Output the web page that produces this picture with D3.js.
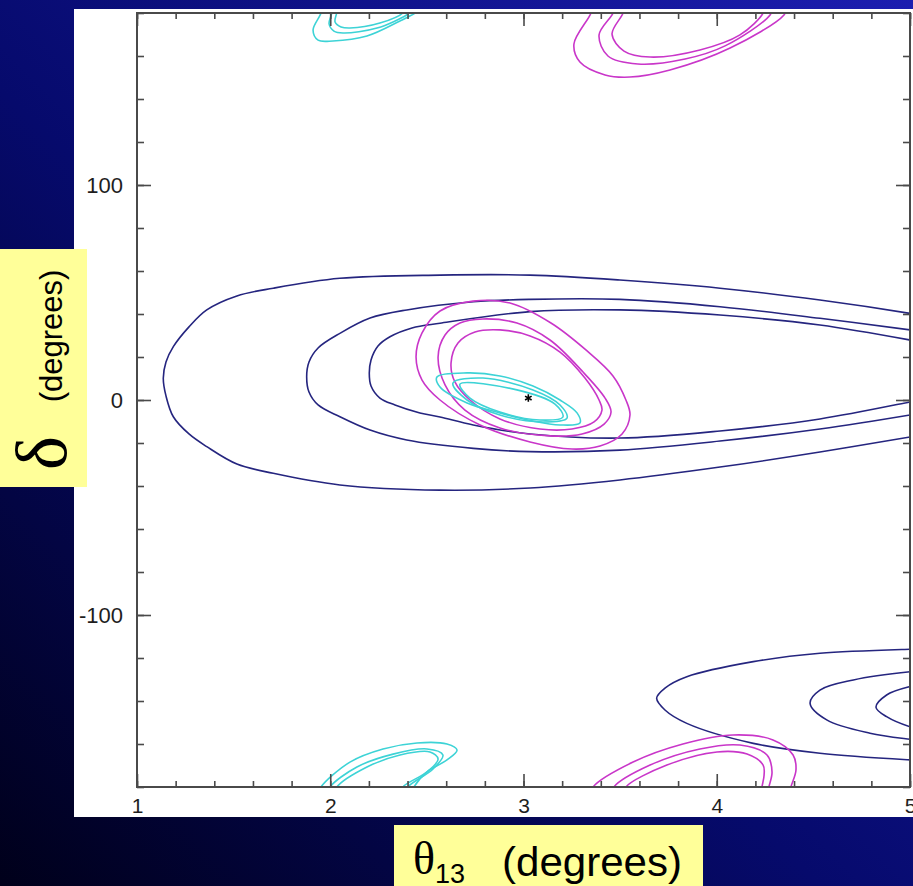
<!DOCTYPE html>
<html>
<head>
<meta charset="utf-8">
<script src="https://cdn.jsdelivr.net/npm/d3@7"></script>
<style>
  html, body { margin: 0; padding: 0; background: #000; overflow: hidden; }
  svg { display: block; }
</style>
</head>
<body>
<svg id="chart" width="913" height="886"></svg>
<script>
// Allowed regions in the (theta13, delta) plane, degrees.
// Each trace is a list of [theta13, delta] points along one contour.

// Blue: broad solutions around delta ~ +10 (open to the right edge)
const blueOuter = [[5.05,39.5],[5.0,40.3],[4.534,46.5],[4.017,52.0],[3.499,55.8],[3.034,58.1],[2.568,58.1],[2.050,56.6],[1.705,52.0],[1.517,48.4],[1.361,41.9],[1.269,34.0],[1.188,24.8],[1.150,17.7],[1.136,10.1],[1.150,1.9],[1.188,-7.8],[1.269,-15.8],[1.361,-21.7],[1.517,-29.8],[1.705,-34.1],[2.050,-39.5],[2.568,-41.9],[3.034,-40.9],[3.499,-37.2],[4.017,-31.2],[4.534,-24.2],[5.0,-17.2],[5.05,-16.5]];
const blueMiddle = [[5.05,32.0],[5.0,32.6],[4.534,38.0],[4.017,43.4],[3.499,46.8],[3.034,46.8],[2.740,45.7],[2.396,41.9],[2.206,38.1],[2.050,31.0],[1.937,24.2],[1.890,17.7],[1.878,10.8],[1.890,3.7],[1.937,-2.3],[2.050,-7.8],[2.206,-14.0],[2.396,-18.6],[2.740,-22.5],[3.034,-24.0],[3.499,-23.3],[4.017,-19.1],[4.534,-13.5],[5.0,-7.0],[5.05,-6.2]];
const blueInner = [[5.05,27.0],[5.0,27.9],[4.534,34.9],[4.017,39.5],[3.499,41.9],[3.034,41.1],[2.568,35.7],[2.423,33.5],[2.309,29.4],[2.247,25.1],[2.211,18.6],[2.202,12.4],[2.211,6.5],[2.257,0.9],[2.335,-2.3],[2.464,-6.0],[2.568,-7.9],[2.740,-11.6],[3.034,-15.8],[3.499,-17.7],[4.017,-14.4],[4.534,-8.8],[5.0,-0.9],[5.05,0.0]];

// Blue: degenerate solutions around delta ~ -140
const blueLowOuter = [[5.05,-115.8],[5.0,-115.9],[4.534,-117.8],[4.189,-121.7],[3.845,-128.7],[3.732,-134.0],[3.689,-138.7],[3.732,-144.2],[3.845,-150.4],[4.189,-159.7],[4.534,-164.3],[5.0,-167.4],[5.05,-167.6]];
const blueLowMiddle = [[5.05,-126.1],[5.0,-126.4],[4.707,-130.2],[4.534,-134.9],[4.483,-141.1],[4.569,-148.8],[4.793,-155.0],[5.0,-157.8],[5.05,-158.3]];
const blueLowInner = [[5.05,-132.5],[5.0,-133.3],[4.879,-137.2],[4.824,-142.9],[4.879,-147.3],[5.0,-152.0],[5.05,-153.0]];

// Magenta: closed contours around the best fit
const magentaOuter = [[2.444,20.0],[2.475,31.2],[2.568,41.4],[2.739,46.0],[2.930,45.1],[3.142,35.8],[3.329,22.8],[3.463,11.2],[3.530,0.0],[3.551,-7.0],[3.510,-15.8],[3.396,-21.4],[3.251,-22.8],[3.034,-19.5],[2.775,-11.6],[2.568,0.0],[2.475,9.3]];
const magentaMiddle = [[2.558,20.0],[2.594,30.2],[2.671,35.8],[2.790,37.7],[2.966,35.8],[3.137,27.9],[3.308,13.0],[3.422,0.9],[3.453,-5.6],[3.417,-11.2],[3.303,-15.8],[3.137,-16.7],[2.878,-13.0],[2.697,-4.7],[2.594,7.0]];
const magentaInner = [[2.625,17.2],[2.661,26.5],[2.749,31.6],[2.878,32.6],[3.034,29.8],[3.189,22.3],[3.318,10.2],[3.391,0.0],[3.406,-4.7],[3.365,-10.2],[3.251,-13.5],[3.085,-13.5],[2.878,-8.8],[2.723,0.0],[2.645,8.4]];

// Magenta: pieces near delta = +180 / -180
const magentaTopOuter = [[3.352,183],[3.349,180],[3.261,165.6],[3.292,157.2],[3.422,151.2],[3.551,150.2],[3.758,153.5],[4.069,163.7],[4.348,179.1],[4.365,183]];
const magentaTopMiddle = [[3.466,183],[3.463,180],[3.391,169.8],[3.437,160.0],[3.592,156.3],[3.836,158.6],[4.043,164.7],[4.276,179.1],[4.290,183]];
const magentaTopInner = [[3.518,183],[3.515,180],[3.458,170.2],[3.520,162.3],[3.655,159.5],[3.913,162.8],[4.120,169.8],[4.240,180],[4.246,183]];
const magentaLowOuter = [[3.350,-183],[3.360,-180],[3.567,-168.4],[3.825,-160.0],[4.084,-155.8],[4.291,-158.1],[4.395,-165.1],[4.410,-172.1],[4.384,-180],[4.378,-183]];
const magentaLowMiddle = [[3.460,-183],[3.468,-180],[3.655,-169.8],[3.913,-162.3],[4.120,-160.5],[4.260,-165.1],[4.286,-173.0],[4.270,-180],[4.266,-183]];
const magentaLowInner = [[3.522,-183],[3.530,-180],[3.742,-169.8],[4.001,-163.7],[4.157,-164.7],[4.240,-169.8],[4.245,-174.4],[4.234,-180],[4.230,-183]];

// Cyan: tight contours around the best fit
const cyanOuter = [[2.552,10.7],[2.708,12.6],[2.878,11.2],[3.049,6.5],[3.189,0.0],[3.277,-6.0],[3.292,-10.7],[3.189,-11.6],[3.049,-9.8],[2.878,-6.0],[2.708,-1.4],[2.568,6.0]];
const cyanMiddle = [[2.635,7.9],[2.790,10.2],[3.049,4.7],[3.189,-2.3],[3.225,-8.4],[3.101,-10.2],[2.878,-7.0],[2.708,0.0]];
const cyanInner = [[2.671,7.4],[2.966,4.7],[3.163,-1.9],[3.204,-7.9],[3.085,-9.3],[2.878,-5.6],[2.723,0.9]];

// Cyan: pieces near delta = +180 / -180
const cyanTopOuter = [[1.957,183.7],[1.952,180],[1.911,172.1],[1.937,167.4],[2.014,167.0],[2.190,169.3],[2.361,176.3],[2.439,180],[2.464,181.9]];
const cyanTopMiddle = [[2.010,183],[2.008,180],[1.994,174.9],[2.019,171.6],[2.066,170.7],[2.242,173.0],[2.397,179.2],[2.413,180.5]];
const cyanTopInner = [[2.035,183],[2.033,180],[2.025,175.8],[2.056,173.5],[2.102,173.0],[2.257,175.3],[2.376,180],[2.386,182]];
const cyanLowOuter = [[1.940,-183],[1.952,-180],[2.102,-168.4],[2.273,-162.3],[2.449,-159.5],[2.604,-160.0],[2.656,-162.8],[2.604,-167.4],[2.501,-173.0],[2.433,-180],[2.420,-183]];
const cyanLowMiddle = [[1.990,-183],[1.999,-180],[2.138,-170.7],[2.325,-164.7],[2.501,-162.3],[2.583,-165.1],[2.532,-171.6],[2.402,-180],[2.392,-183]];
const cyanLowInner = [[2.027,-183],[2.035,-180],[2.190,-170.7],[2.361,-165.1],[2.516,-163.7],[2.558,-167.0],[2.501,-173.0],[2.376,-180],[2.368,-183]];

// Best-fit point
const bestFit = [[3.025, 0.9]];

// Axis tick labels
const xTickLabels = [1, 2, 3, 4, 5];
const yTickLabels = [-100, 0, 100];

// ---------------------------------------------------------------------------
const W = 913, H = 886;
const plot = { left: 137, right: 910, top: 13, bottom: 787 };

const svg = d3.select("#chart");
const defs = svg.append("defs");

const bg = defs.append("linearGradient").attr("id", "slideBg")
  .attr("x1", "0").attr("y1", "1").attr("x2", "1").attr("y2", "0");
bg.append("stop").attr("offset", "0").attr("stop-color", "#00001a");
bg.append("stop").attr("offset", "0.45").attr("stop-color", "#060a6c");
bg.append("stop").attr("offset", "1").attr("stop-color", "#1c1eb0");

defs.append("clipPath").attr("id", "plotClip")
  .append("rect")
  .attr("x", plot.left).attr("y", plot.top)
  .attr("width", plot.right - plot.left).attr("height", plot.bottom - plot.top);

svg.append("rect").attr("width", W).attr("height", H).attr("fill", "url(#slideBg)");
svg.append("rect").attr("x", 74).attr("y", 9).attr("width", W - 74).attr("height", 808).attr("fill", "#ffffff");

const x = d3.scaleLinear().domain([1, 5]).range([plot.left, plot.right]);
const y = d3.scaleLinear().domain([-180, 180]).range([plot.bottom, plot.top]);

// Contours
const openLine = d3.line().x(d => x(d[0])).y(d => y(d[1])).curve(d3.curveCatmullRom.alpha(0.5));
const closedLine = d3.line().x(d => x(d[0])).y(d => y(d[1])).curve(d3.curveCatmullRomClosed.alpha(0.5));

const contours = svg.append("g").attr("clip-path", "url(#plotClip)")
  .attr("fill", "none").attr("stroke-width", 1.6).attr("stroke-linejoin", "round");

const colours = { blue: "#25257f", magenta: "#c936c9", cyan: "#3dd3d6" };

const traces = [
  { pts: blueOuter, c: colours.blue, closed: false },
  { pts: blueMiddle, c: colours.blue, closed: false },
  { pts: blueInner, c: colours.blue, closed: false },
  { pts: blueLowOuter, c: colours.blue, closed: false },
  { pts: blueLowMiddle, c: colours.blue, closed: false },
  { pts: blueLowInner, c: colours.blue, closed: false },
  { pts: magentaOuter, c: colours.magenta, closed: true },
  { pts: magentaMiddle, c: colours.magenta, closed: true },
  { pts: magentaInner, c: colours.magenta, closed: true },
  { pts: magentaTopOuter, c: colours.magenta, closed: false },
  { pts: magentaTopMiddle, c: colours.magenta, closed: false },
  { pts: magentaTopInner, c: colours.magenta, closed: false },
  { pts: magentaLowOuter, c: colours.magenta, closed: false },
  { pts: magentaLowMiddle, c: colours.magenta, closed: false },
  { pts: magentaLowInner, c: colours.magenta, closed: false },
  { pts: cyanOuter, c: colours.cyan, closed: true },
  { pts: cyanMiddle, c: colours.cyan, closed: true },
  { pts: cyanInner, c: colours.cyan, closed: true },
  { pts: cyanTopOuter, c: colours.cyan, closed: false },
  { pts: cyanTopMiddle, c: colours.cyan, closed: false },
  { pts: cyanTopInner, c: colours.cyan, closed: false },
  { pts: cyanLowOuter, c: colours.cyan, closed: false },
  { pts: cyanLowMiddle, c: colours.cyan, closed: false },
  { pts: cyanLowInner, c: colours.cyan, closed: false }
];

contours.selectAll("path").data(traces).join("path")
  .attr("stroke", d => d.c)
  .attr("d", d => (d.closed ? closedLine : openLine)(d.pts));

// Best-fit marker
svg.append("g").selectAll("path").data(bestFit).join("path")
  .attr("transform", d => `translate(${x(d[0])},${y(d[1])})`)
  .attr("d", d3.symbol(d3.symbolAsterisk, 40))
  .attr("fill", "none").attr("stroke", "#000").attr("stroke-width", 1.6);

// Frame and inward ticks
const axisColour = "#4a4a4a";
function styleAxis(g) {
  g.select(".domain").remove();
  g.selectAll(".tick line").attr("stroke", axisColour).attr("stroke-width", 1.6);
  g.selectAll(".tick text").attr("fill", "#1e1e1e")
    .style("font-family", "'Liberation Sans', Arial, sans-serif").style("font-size", "21px");
}

const xMinor = x.ticks(20);
const yMinor = y.ticks(18);

// bottom
svg.append("g").attr("transform", `translate(0,${plot.bottom})`)
  .call(d3.axisBottom(x).tickValues(xMinor).tickSize(-6).tickFormat("")).call(styleAxis);
svg.append("g").attr("transform", `translate(0,${plot.bottom})`)
  .call(d3.axisBottom(x).tickValues(xTickLabels).tickSize(-13).tickPadding(11).tickFormat(d3.format("d")))
  .call(styleAxis);
// top
svg.append("g").attr("transform", `translate(0,${plot.top})`)
  .call(d3.axisTop(x).tickValues(xMinor).tickSize(-6).tickFormat("")).call(styleAxis);
svg.append("g").attr("transform", `translate(0,${plot.top})`)
  .call(d3.axisTop(x).tickValues(xTickLabels).tickSize(-13).tickFormat("")).call(styleAxis);
// left
svg.append("g").attr("transform", `translate(${plot.left},0)`)
  .call(d3.axisLeft(y).tickValues(yMinor).tickSize(-7).tickFormat("")).call(styleAxis);
svg.append("g").attr("transform", `translate(${plot.left},0)`)
  .call(d3.axisLeft(y).tickValues(yTickLabels).tickSize(-14).tickPadding(14).tickFormat(d => d < 0 ? "-" + Math.abs(d) : String(d)))
  .call(styleAxis)
  .call(g => g.selectAll(".tick text").style("font-size", "22px"));
// right
svg.append("g").attr("transform", `translate(${plot.right},0)`)
  .call(d3.axisRight(y).tickValues(yMinor).tickSize(-7).tickFormat("")).call(styleAxis);
svg.append("g").attr("transform", `translate(${plot.right},0)`)
  .call(d3.axisRight(y).tickValues(yTickLabels).tickSize(-14).tickFormat("")).call(styleAxis);

svg.append("rect")
  .attr("x", plot.left).attr("y", plot.top)
  .attr("width", plot.right - plot.left).attr("height", plot.bottom - plot.top)
  .attr("fill", "none").attr("stroke", axisColour).attr("stroke-width", 2);

// Axis titles on yellow cards
const card = "#ffff99";
svg.append("rect").attr("x", 0).attr("y", 249).attr("width", 87).attr("height", 238).attr("fill", card);
svg.append("text").attr("transform", "translate(62,336) rotate(-90)")
  .attr("text-anchor", "middle")
  .style("font-family", "'Liberation Sans', Arial, sans-serif").style("font-size", "31px")
  .attr("fill", "#000").text("(degrees)");
svg.append("text").attr("transform", "translate(66,453) rotate(-90)")
  .attr("text-anchor", "middle")
  .style("font-family", "'Liberation Serif', 'Times New Roman', serif").style("font-size", "72px")
  .attr("fill", "#000").text("δ");

svg.append("rect").attr("x", 394).attr("y", 825).attr("width", 309).attr("height", 70).attr("fill", card);
const xt = svg.append("text").attr("x", 413).attr("y", 874).attr("fill", "#000");
xt.append("tspan")
  .style("font-family", "'Liberation Serif', 'Times New Roman', serif").style("font-size", "46px")
  .text("θ");
xt.append("tspan").attr("dy", 9)
  .style("font-family", "'Liberation Sans', Arial, sans-serif").style("font-size", "27px")
  .text("13");
svg.append("text").attr("x", 502).attr("y", 876).attr("fill", "#000")
  .attr("textLength", 180).attr("lengthAdjust", "spacingAndGlyphs")
  .style("font-family", "'Liberation Sans', Arial, sans-serif").style("font-size", "41px")
  .text("(degrees)");
</script>
</body>
</html>
